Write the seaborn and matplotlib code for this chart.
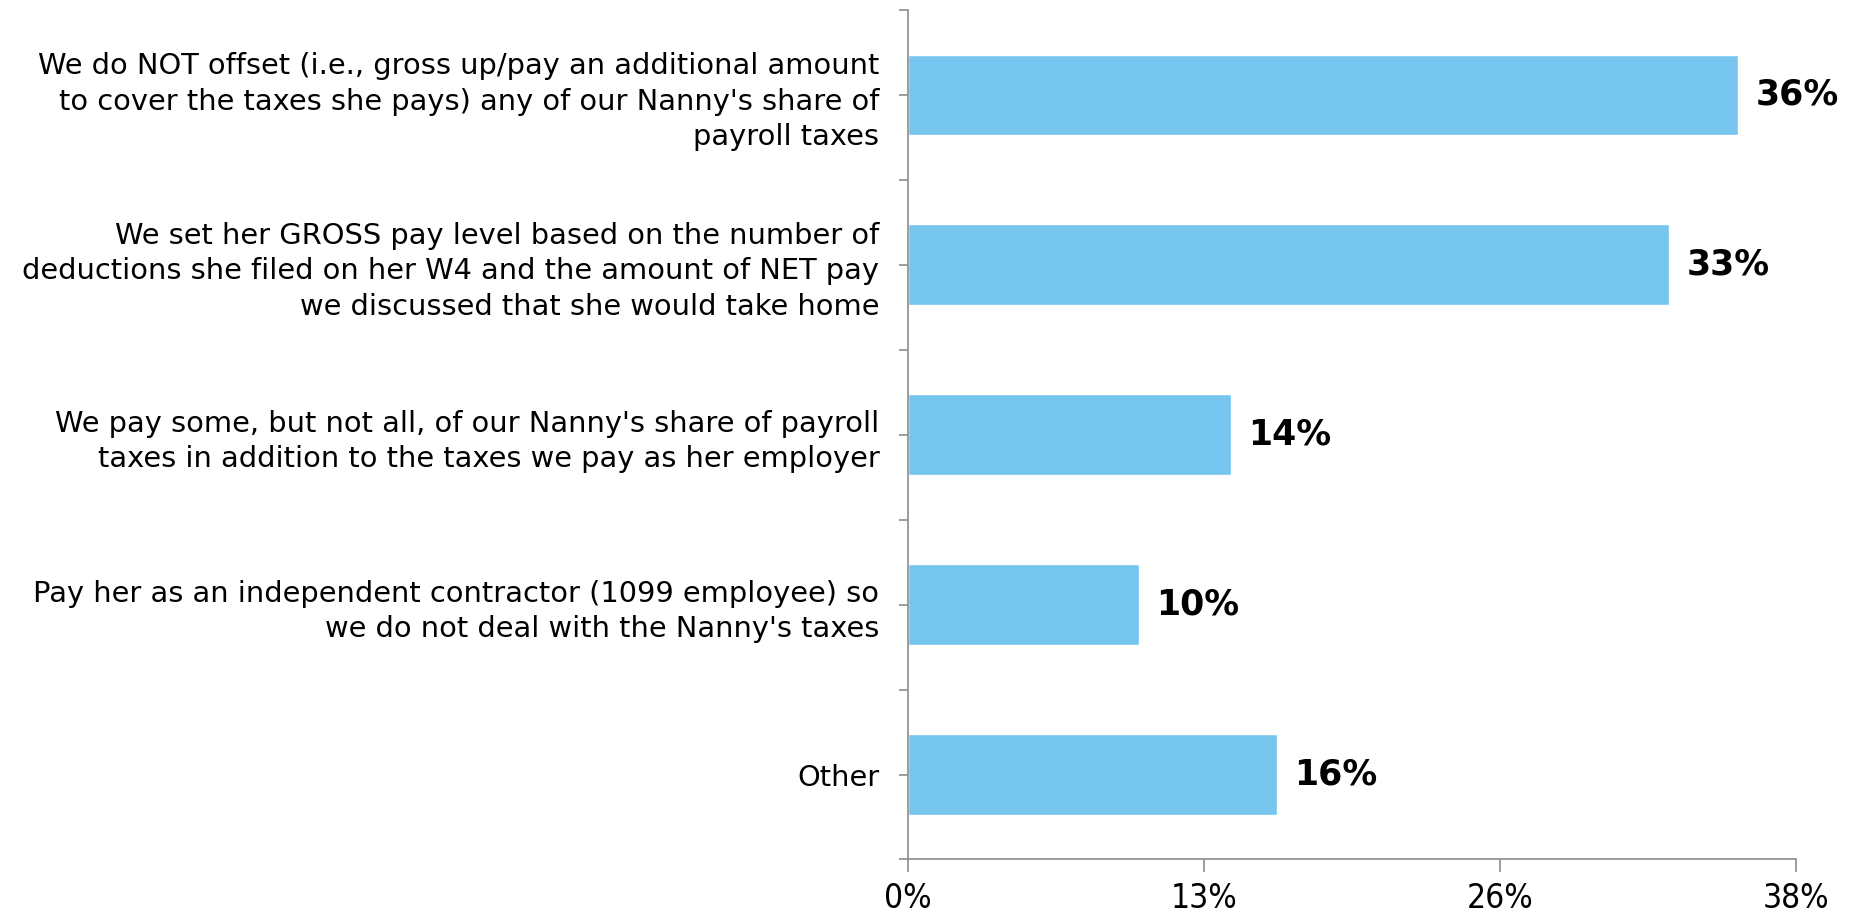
import numpy as np
import pandas as pd
import matplotlib
matplotlib.use("Agg")
import matplotlib.pyplot as plt
import seaborn as sns

# Données du graphique
categories = [
    "We do NOT offset (i.e., gross up/pay an additional amount\nto cover the taxes she pays) any of our Nanny's share of\npayroll taxes",
    "We set her GROSS pay level based on the number of\ndeductions she filed on her W4 and the amount of NET pay\nwe discussed that she would take home",
    "We pay some, but not all, of our Nanny's share of payroll\ntaxes in addition to the taxes we pay as her employer",
    "Pay her as an independent contractor (1099 employee) so\nwe do not deal with the Nanny's taxes",
    "Other",
]
shares = [0.36, 0.33, 0.14, 0.10, 0.16]
x_max = 0.385
x_tick_labels = ["0%", "13%", "26%", "38%"]

bar_color = "#75C5EE"
axis_color = "#8C8C8C"

sns.set_theme(style="white")
plt.rcParams["font.family"] = ["DejaVu Sans"]
plt.rcParams["text.color"] = "black"
plt.rcParams["xtick.labelcolor"] = "black"
plt.rcParams["ytick.labelcolor"] = "black"

df = pd.DataFrame({"category": categories, "share": shares})

fig = plt.figure(figsize=(18.59, 9.16), dpi=100)
ax = fig.add_axes([0.4884, 0.0617, 0.9661 - 0.4884, 0.9891 - 0.0617])

sns.barplot(data=df, x="share", y="category", orient="h", color=bar_color,
            width=0.475, saturation=1, ax=ax)

ax.set_xlim(0, x_max)
ax.set_ylim(len(categories) - 0.5, -0.5)
ax.set_xlabel("")
ax.set_ylabel("")

# Axe X
ax.set_xticks(np.linspace(0, x_max, len(x_tick_labels)))
ax.set_xticklabels(x_tick_labels, fontsize=24, fontstretch="condensed")
ax.tick_params(axis="x", direction="out", length=9, width=1.2,
               color=axis_color, pad=7, bottom=True)

# Axe Y : graduations au centre et aux bords des catégories
ax.set_yticks(range(len(categories)))
ax.set_yticklabels(categories, fontsize=20.8, linespacing=1.33)
ax.set_yticks(np.arange(-0.5, len(categories)), minor=True)
ax.tick_params(axis="y", which="both", direction="out", length=6.5,
               width=1.2, color=axis_color, pad=14, left=True)

for side in ["top", "right"]:
    ax.spines[side].set_visible(False)
for side in ["left", "bottom"]:
    ax.spines[side].set_color(axis_color)
    ax.spines[side].set_linewidth(1.2)

# Étiquettes de valeur
for i, v in enumerate(shares):
    ax.text(v + 0.0075, i, f"{v:.0%}", va="center", ha="left",
            fontsize=25, fontweight="bold", color="black")

fig.savefig("out.png", dpi=100)
